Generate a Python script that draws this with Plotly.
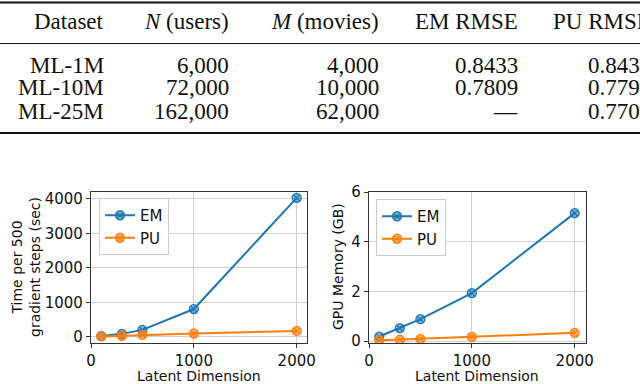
"""
Table of MovieLens results plus timing / memory line charts (EM vs PU).
"""

import plotly.graph_objects as go

# ---- table data ----
table_header = ["Dataset", "<i>N</i> (users)", "<i>M</i> (movies)", "EM RMSE", "PU RMSE"]
datasets = ["ML-1M", "ML-10M", "ML-25M"]
n_users = ["6,000", "72,000", "162,000"]
m_movies = ["4,000", "10,000", "62,000"]
em_rmse = ["0.8433", "0.7809", "\u2014"]
pu_rmse = ["0.8431", "0.7791", "0.7702"]

# ---- chart data ----
latent_dim = [100, 300, 500, 1000, 2000]
em_time = [20, 85, 200, 805, 4030]
pu_time = [10, 30, 55, 95, 170]
em_memory = [0.18, 0.52, 0.88, 1.93, 5.15]
pu_memory = [0.03, 0.05, 0.09, 0.17, 0.33]

W, H = 640, 384
BLUE = "#1f77b4"
ORANGE = "#ff7f0e"


def py(px):
    # pixel row -> paper y
    return 1 - px / H


def px_x(px):
    return px / W


fig = go.Figure()


def add_series(x, y, name, color, fill, xa, ya, legend):
    fig.add_trace(go.Scatter(
        x=x, y=y, name=name, mode="lines+markers",
        xaxis=xa, yaxis=ya, legend=legend,
        line=dict(color=color, width=2),
        marker=dict(symbol="circle-x", size=9, color=fill,
                    line=dict(color=color, width=1.3)),
    ))


add_series(latent_dim, em_time, "EM", BLUE, "rgba(31,119,180,0.55)", "x", "y", "legend")
add_series(latent_dim, pu_time, "PU", ORANGE, "rgba(255,127,14,0.55)", "x", "y", "legend")
add_series(latent_dim, em_memory, "EM", BLUE, "rgba(31,119,180,0.55)", "x2", "y2", "legend2")
add_series(latent_dim, pu_memory, "PU", ORANGE, "rgba(255,127,14,0.55)", "x2", "y2", "legend2")

axis_common = dict(
    showline=True, mirror=True, linecolor="#333333", linewidth=1.2,
    ticks="outside", ticklen=4, tickcolor="#333333",
    showgrid=True, gridcolor="#d0d0d0", gridwidth=1,
    zeroline=False,
    tickfont=dict(family="DejaVu Sans", size=15, color="#111111"),
)
title_font = dict(family="DejaVu Sans", size=14, color="#111111")
legend_common = dict(xanchor="left", yanchor="top",
                     bgcolor="white", bordercolor="#cccccc", borderwidth=1,
                     font=dict(family="DejaVu Sans", size=15, color="#111111"),
                     tracegroupgap=0)

fig.update_layout(
    width=W, height=H,
    margin=dict(l=0, r=0, t=0, b=0, pad=0, autoexpand=False),
    paper_bgcolor="white", plot_bgcolor="white",
    xaxis=dict(axis_common, domain=[px_x(91), px_x(307)], anchor="y",
               range=[0, 2100], tickvals=[0, 1000, 2000]),
    yaxis=dict(axis_common, domain=[py(343), py(192)], anchor="x",
               range=[-180, 4200], tickvals=[0, 1000, 2000, 3000, 4000]),
    xaxis2=dict(axis_common, domain=[px_x(369), px_x(586)], anchor="y2",
                range=[0, 2110], tickvals=[0, 1000, 2000]),
    yaxis2=dict(axis_common, domain=[py(343), py(192)], anchor="x2",
                range=[-0.08, 6], tickvals=[0, 2, 4, 6]),
    legend=dict(legend_common, x=px_x(99), y=py(198)),
    legend2=dict(legend_common, x=px_x(376), y=py(199)),
)

# axis titles placed as annotations
for cx in [199, 477]:
    fig.add_annotation(xref="paper", yref="paper", x=px_x(cx), y=py(376),
                       xanchor="center", yanchor="middle", showarrow=False,
                       text="Latent Dimension", font=title_font)
fig.add_annotation(xref="paper", yref="paper", x=px_x(26), y=py(267),
                   xanchor="center", yanchor="middle", showarrow=False,
                   textangle=-90, text="Time per 500<br>gradient steps (sec)",
                   font=title_font)
fig.add_annotation(xref="paper", yref="paper", x=px_x(338), y=py(267),
                   xanchor="center", yanchor="middle", showarrow=False,
                   textangle=-90, text="GPU Memory (GB)", font=title_font)

# ---- table (rules + text) ----
for y_px, w in [(2.5, 2.2), (43.5, 1.2), (133, 2.2)]:
    fig.add_shape(type="line", xref="paper", yref="paper",
                  x0=0, x1=1, y0=py(y_px), y1=py(y_px),
                  line=dict(color="#111111", width=w))

col_right = [105, 230, 380, 519, 652]
row_y = [22, 65, 88, 111]
columns = [datasets, n_users, m_movies, em_rmse, pu_rmse]
tfont = dict(family="Liberation Serif", size=23, color="#111111")

for c, right in enumerate(col_right):
    cells = [table_header[c]] + columns[c]
    for r, text in enumerate(cells):
        fig.add_annotation(xref="paper", yref="paper",
                           x=px_x(right), y=py(row_y[r]),
                           xanchor="right", yanchor="middle",
                           text=text, showarrow=False, font=tfont,
                           borderpad=0)

# drop the browser's default body margin so the figure sits at (0, 0)
fig.write_html("out.html",
               config={"displayModeBar": False},
               post_script="document.body.style.margin='0';"
                           "document.body.style.overflow='hidden';")
